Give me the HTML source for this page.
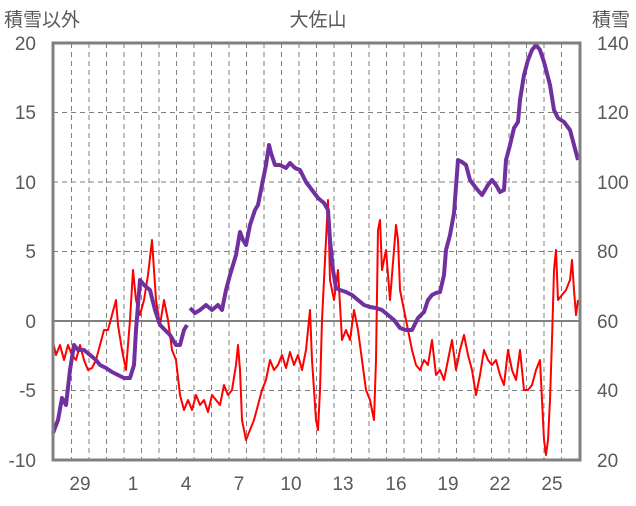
<!DOCTYPE html>
<html><head><meta charset="utf-8"><style>
body{margin:0;background:#fff}
svg text{font-family:"Liberation Sans","Noto Sans CJK JP",sans-serif;fill:#595959}
</style></head><body>
<svg width="636" height="501" viewBox="0 0 636 501" xmlns="http://www.w3.org/2000/svg">
<g stroke="#7f7f7f" stroke-width="1" stroke-dasharray="5,4" fill="none">
<path d="M53 112.5H580M53 182H580M53 251.5H580M53 390.5H580"/>
<path id="vg" d=""/>
</g>
<g stroke="#7f7f7f" stroke-width="1" stroke-dasharray="5,4">
<line x1="71.5" y1="43" x2="71.5" y2="460"/><line x1="89" y1="43" x2="89" y2="460"/><line x1="106.5" y1="43" x2="106.5" y2="460"/><line x1="124" y1="43" x2="124" y2="460"/><line x1="141.5" y1="43" x2="141.5" y2="460"/><line x1="159" y1="43" x2="159" y2="460"/><line x1="176.5" y1="43" x2="176.5" y2="460"/><line x1="194" y1="43" x2="194" y2="460"/><line x1="211.5" y1="43" x2="211.5" y2="460"/><line x1="229" y1="43" x2="229" y2="460"/><line x1="246.5" y1="43" x2="246.5" y2="460"/><line x1="264" y1="43" x2="264" y2="460"/><line x1="281.5" y1="43" x2="281.5" y2="460"/><line x1="299" y1="43" x2="299" y2="460"/><line x1="316.5" y1="43" x2="316.5" y2="460"/><line x1="334" y1="43" x2="334" y2="460"/><line x1="351.5" y1="43" x2="351.5" y2="460"/><line x1="369" y1="43" x2="369" y2="460"/><line x1="386.5" y1="43" x2="386.5" y2="460"/><line x1="404" y1="43" x2="404" y2="460"/><line x1="421.5" y1="43" x2="421.5" y2="460"/><line x1="439" y1="43" x2="439" y2="460"/><line x1="456.5" y1="43" x2="456.5" y2="460"/><line x1="474" y1="43" x2="474" y2="460"/><line x1="491.5" y1="43" x2="491.5" y2="460"/><line x1="509" y1="43" x2="509" y2="460"/><line x1="526.5" y1="43" x2="526.5" y2="460"/><line x1="544" y1="43" x2="544" y2="460"/><line x1="561.5" y1="43" x2="561.5" y2="460"/>
</g>
<line x1="53" y1="321" x2="580" y2="321" stroke="#808080" stroke-width="2"/>
<polyline fill="none" stroke="#ff0000" stroke-width="2" stroke-linejoin="round" points="53,342 56,355 60,345 64,360 68,345 72,355 76,360 80,345 84,360 88,370 92,368 96,360 100,345 104,330 108,330 112,315 116,300 118,325 122,350 126,370 130,320 133,270 136,300 140,315 144,300 148,275 152,240 156,300 160,325 164,300 168,320 172,350 176,360 180,395 184,410 188,400 192,410 196,395 200,405 204,400 208,412 212,395 216,400 220,405 224,385 228,395 232,390 236,365 238,345 240,370 242,420 246,440 250,430 254,420 258,405 262,390 266,380 270,360 274,370 278,365 282,355 286,368 290,352 294,365 298,355 302,370 306,350 310,310 312,360 316,420 318,430 320,390 322,320 326,240 328,200 330,280 334,300 338,270 342,340 346,330 350,340 354,310 358,330 362,360 366,390 370,400 374,420 376,360 378,230 380,220 382,270 386,250 390,300 394,250 396,225 398,240 400,290 404,310 408,330 412,350 416,365 420,370 424,360 428,365 432,340 436,375 440,370 444,380 448,360 452,340 456,370 460,350 464,335 468,355 472,370 476,395 480,375 484,350 488,360 492,365 496,360 500,375 504,385 508,350 512,370 516,380 520,350 524,390 528,390 532,385 536,370 540,360 542,400 544,440 546,455 548,440 550,400 552,340 554,270 556,250 558,300 562,295 566,290 570,280 572,260 574,290 576,315 578,300"/>
<g fill="none" stroke="#7030a0" stroke-width="4" stroke-linejoin="round">
<polyline points="53,433 58,420 62,398 66,405 70,370 74,345 78,350 84,350 90,355 96,360 100,365 106,368 112,372 118,375 124,378 130,378 134,365 136,330 140,280 144,285 150,290 155,310 160,325 165,330 170,335 176,345 180,345 184,330 187,325"/>
<polyline points="190,308 195,313 200,310 206,305 212,310 218,305 222,310 226,290 230,275 236,255 240,232 243,240 246,245 250,225 255,210 258,205 262,185 266,165 269,145 271,153 275,165 280,165 286,168 290,163 295,168 300,170 306,182 312,190 318,198 324,203 328,210 330,240 333,270 336,288 340,290 346,292 352,295 358,300 364,305 370,307 376,308 382,310 388,315 394,320 400,328 406,330 412,330 418,318 424,312 428,300 432,295 436,293 440,292 444,275 446,250 450,235 454,213 458,160 462,162 466,165 470,180 476,188 482,195 488,185 492,180 496,185 500,192 504,190 506,160 510,145 514,128 518,122 520,100 524,75 528,60 532,50 536,45 540,50 544,62 550,85 554,110 558,118 564,122 570,130 574,145 578,160"/>
</g>
<rect x="53" y="43" width="527" height="417" fill="none" stroke="#808080" stroke-width="3"/>
<g font-size="19" text-anchor="end">
<text x="36" y="50">20</text><text x="36" y="119">15</text><text x="36" y="189">10</text><text x="36" y="258">5</text><text x="36" y="328">0</text><text x="36" y="397">-5</text><text x="36" y="467">-10</text>
</g>
<g font-size="19" text-anchor="start">
<text x="597" y="50">140</text><text x="597" y="119">120</text><text x="597" y="189">100</text><text x="597" y="258">80</text><text x="597" y="328">60</text><text x="597" y="397">40</text><text x="597" y="467">20</text>
</g>
<g font-size="19" text-anchor="middle">
<text x="80" y="490">29</text><text x="133" y="490">1</text><text x="186" y="490">4</text><text x="239" y="490">7</text><text x="291" y="490">10</text><text x="343" y="490">13</text><text x="396" y="490">16</text><text x="448" y="490">19</text><text x="500" y="490">22</text><text x="552" y="490">25</text>
</g>
<text x="4" y="26" font-size="19">積雪以外</text>
<text x="318" y="26" font-size="19" text-anchor="middle">大佐山</text>
<text x="592" y="26" font-size="19">積雪</text>
</svg>
</body></html>
